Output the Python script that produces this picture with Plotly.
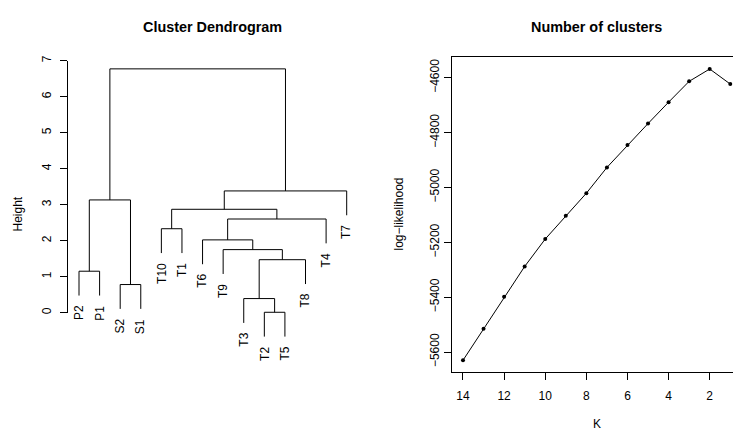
import plotly.graph_objects as go

# ---------------- data ----------------
leaf_labels = ["P2", "P1", "S2", "S1", "T10", "T1", "T6", "T9", "T3", "T2", "T5", "T8", "T4", "T7"]
# R-style merge matrix: negative = leaf (1-based position in leaf order), positive = earlier merge
merge_left = [-10, -9, -3, -1, 2, -8, -7, -5, 7, 8, 4, 10, 11]
merge_right = [-11, 1, -4, -2, -12, 5, 6, -6, -13, 9, 3, -14, 12]
merge_height = [0.01, 0.39, 0.78, 1.15, 1.47, 1.75, 2.02, 2.33, 2.60, 2.87, 3.13, 3.38, 6.77]
hang = 0.1
height_ticks = [0, 1, 2, 3, 4, 5, 6, 7]

k_values = [14, 13, 12, 11, 10, 9, 8, 7, 6, 5, 4, 3, 2, 1]
loglik = [-5630, -5515, -5398, -5288, -5188, -5103, -5021, -4927, -4845, -4767, -4689, -4613, -4568, -4623]
k_ticks = [14, 12, 10, 8, 6, 4, 2]
ll_ticks = [-5600, -5400, -5200, -5000, -4800, -4600]

# ---------------- geometry helpers ----------------
W, H = 733, 431
def px(x):
    return x / W
def py(y):
    return (H - y) / H

# dendrogram segments computed from merge structure
hang_len = hang * (max(merge_height) - min(merge_height))
node_x = {}
seg_x, seg_y = [], []
leaf_ends = {}
for i, (a, b, h) in enumerate(zip(merge_left, merge_right, merge_height), start=1):
    xs = []
    for c in (a, b):
        if c < 0:
            x = float(-c)
            y0 = h - hang_len
            leaf_ends[-c] = y0
        else:
            x = node_x[c]
            y0 = merge_height[c - 1]
        xs.append(x)
        seg_x += [x, x, None]
        seg_y += [y0, h, None]
    seg_x += [xs[0], xs[1], None]
    seg_y += [h, h, None]
    node_x[i] = (xs[0] + xs[1]) / 2

font = dict(family="Liberation Sans, Arial, Helvetica, sans-serif", size=12, color="black")
title_font = dict(family="Liberation Sans, Arial, Helvetica, sans-serif", size=14.4, color="black")

fig = go.Figure()
fig.add_trace(go.Scatter(x=seg_x, y=seg_y, mode="lines", line=dict(color="black", width=1),
                         xaxis="x", yaxis="y", hoverinfo="skip", showlegend=False))
# dummy trace to bring height axis (y3) into existence
fig.add_trace(go.Scatter(x=[1], y=[0], mode="markers", marker=dict(opacity=0),
                         xaxis="x", yaxis="y3", hoverinfo="skip", showlegend=False))
fig.add_trace(go.Scatter(x=k_values, y=loglik, mode="lines+markers",
                         line=dict(color="black", width=1),
                         marker=dict(color="black", size=4),
                         xaxis="x2", yaxis="y2", hoverinfo="skip", showlegend=False))

# leaf labels
annotations = []
for idx, lab in enumerate(leaf_labels, start=1):
    annotations.append(dict(x=idx, y=leaf_ends[idx], xref="x", yref="y", text=lab,
                            textangle=-90, showarrow=False, xanchor="center", yanchor="top",
                            yshift=-8, font=font))

# titles & axis titles
annotations += [
    dict(x=px(212.5), y=py(22), xref="paper", yref="paper", text="<b>Cluster Dendrogram</b>",
         showarrow=False, font=title_font, xanchor="center", yanchor="middle"),
    dict(x=px(596.5), y=py(22), xref="paper", yref="paper", text="<b>Number of clusters</b>",
         showarrow=False, font=title_font, xanchor="center", yanchor="middle"),
    dict(x=px(18), y=py(213), xref="paper", yref="paper", text="Height", textangle=-90,
         showarrow=False, font=font, xanchor="center", yanchor="middle"),
    dict(x=px(399), y=py(213), xref="paper", yref="paper", text="log\u2212likelihood", textangle=-90,
         showarrow=False, font=font, xanchor="center", yanchor="middle"),
    dict(x=px(596.5), y=py(426), xref="paper", yref="paper", text="K",
         showarrow=False, font=font, xanchor="center", yanchor="middle"),
]

# left plot scales
left_x0, left_x1 = 68.3, 357.4
top_px, bot_px = 53.2, 373.0
zero_px, unit_px = 312.7, 36.6
y_top = (zero_px - top_px) / unit_px
y_bot = (zero_px - bot_px) / unit_px

# right plot scales
r_left = 452.3
k_unit = 20.56
k_hi = 14.52
k_lo = k_hi - (W - r_left) / k_unit
ll_lo, ll_hi = -5672.5, -4525.5

fig.update_layout(
    width=W, height=H,
    margin=dict(l=0, r=0, t=0, b=0),
    paper_bgcolor="white", plot_bgcolor="rgba(0,0,0,0)",
    font=font,
    annotations=annotations,
    xaxis=dict(domain=[px(left_x0), px(left_x1)], range=[0.48, 14.52], visible=False),
    yaxis=dict(domain=[py(bot_px), py(top_px)], range=[y_bot, y_top], visible=False),
    yaxis3=dict(domain=[py(zero_px), py(zero_px - 7 * unit_px)], range=[0, 7], anchor="x",
                tickvals=height_ticks, ticks="outside", ticklen=7, tickwidth=1, tickcolor="black",
                showline=True, linecolor="black", linewidth=1, tickangle=-90,
                showgrid=False, zeroline=False, tickfont=font, ticklabelstandoff=5),
    xaxis2=dict(domain=[px(r_left), 1], range=[k_hi, k_lo], anchor="y2",
                tickvals=k_ticks, ticks="outside", ticklen=7, tickwidth=1, tickcolor="black",
                showline=True, mirror=True, linecolor="black", linewidth=1,
                showgrid=False, zeroline=False, tickfont=font, ticklabelstandoff=6),
    yaxis2=dict(domain=[py(bot_px), py(top_px)], range=[ll_lo, ll_hi], anchor="x2",
                tickvals=ll_ticks, ticktext=[("\u2212" + str(abs(v))) for v in ll_ticks],
                ticks="outside", ticklen=7, tickwidth=1, tickcolor="black",
                showline=True, linecolor="black", linewidth=1, tickangle=-90,
                showgrid=False, zeroline=False, tickfont=font, ticklabelstandoff=1),
)

fig.write_html("out.html")
